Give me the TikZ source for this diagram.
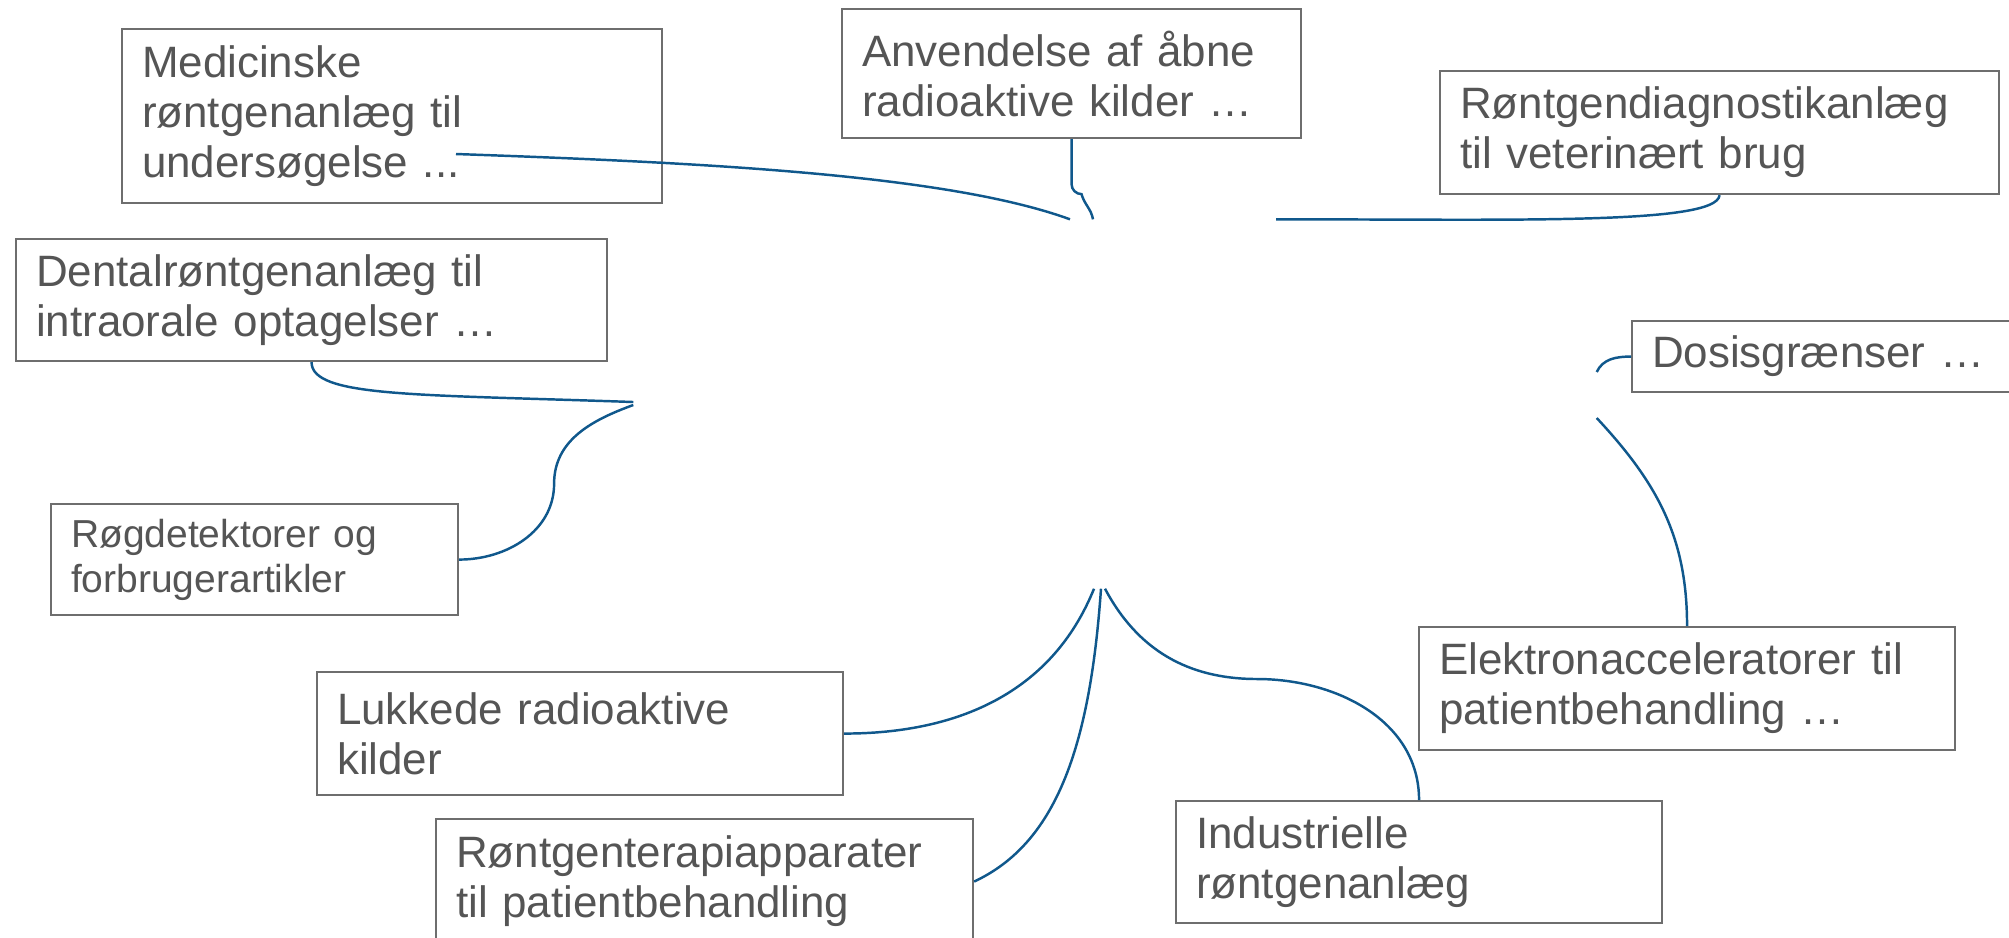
\documentclass[tikz,border=0pt]{standalone}
\usepackage{fontspec}
\setmainfont{Liberation Sans}
\usepackage{tikz}
\usetikzlibrary{calc}
\definecolor{boxgray}{RGB}{110,110,110}
\definecolor{textgray}{RGB}{85,85,85}
\definecolor{linkblue}{RGB}{16,88,140}

\begin{document}
\begin{tikzpicture}[
    topic/.style={draw=boxgray, line width=0.6pt, text=textgray, anchor=north west, align=left,
        inner xsep=0.2cm, inner ysep=0pt, font=\fontsize{12.5}{14.2}\selectfont},
    smalltopic/.style={topic, font=\fontsize{11.1}{12.8}\selectfont},
    hubzone/.style={inner sep=0pt, minimum width=9.62cm, minimum height=3.68cm},
    link/.style={draw=linkblue, line width=0.7pt}]
    \useasboundingbox (0,0) rectangle (20.09,-9.37);
    \node[hubzone] (hub) at (11.15,-4.04) {};
    \node[topic, text width=5.00cm, minimum height=1.74cm] (med) at (1.21,-0.28) {Medicinske\\røntgenanlæg til\\undersøgelse ...};
    \node[topic, text width=4.19cm, minimum height=1.29cm] (anv) at (8.41,-0.08) {Anvendelse af åbne\\radioaktive kilder …};
    \node[topic, text width=5.19cm, minimum height=1.23cm] (diag) at (14.39,-0.70) {Røntgendiagnostikanlæg\\til veterinært brug};
    \node[topic, text width=5.51cm, minimum height=1.22cm] (dental) at (0.15,-2.38) {Dentalrøntgenanlæg til\\intraorale optagelser …};
    \node[topic, text width=3.49cm, minimum height=0.71cm] (dosis) at (16.31,-3.20) {Dosisgrænser …};
    \node[smalltopic, text width=3.67cm, minimum height=1.11cm] (rog) at (0.50,-5.03) {Røgdetektorer og\\forbrugerartikler};
    \node[topic, text width=4.86cm, minimum height=1.23cm] (lukket) at (3.16,-6.71) {Lukkede radioaktive\\kilder};
    \node[topic, text width=4.97cm, minimum height=1.25cm] (terapi) at (4.35,-8.18) {Røntgenterapiapparater\\til patientbehandling};
    \node[topic, text width=4.46cm, minimum height=1.22cm] (industri) at (11.75,-8.00) {Industrielle\\røntgenanlæg};
    \node[topic, text width=4.96cm, minimum height=1.23cm] (elektron) at (14.18,-6.26) {Elektronacceleratorer til\\patientbehandling …};
    \coordinate (medtail) at (4.56,-1.54);
    \draw[link] (medtail) to[out=-2, in=160, out distance=2.5cm, in distance=1.3cm] ([xshift=-0.45cm]hub.north);
    \draw[link] (anv.south) -- ++(0,-0.45) to[out=-90, in=180] ++(0.1,-0.1) to[out=-75, in=100] ([xshift=-0.22cm]hub.north);
    \draw[link] (diag.south) to[out=-95, in=0, out distance=0.3cm, in distance=2.4cm] ([xshift=1.61cm]hub.north);
    \draw[link] (dental.south) to[out=-90, in=178, out distance=0.35cm, in distance=2.2cm] ([yshift=0.02cm]hub.west);
    \draw[link] (rog.east) to[out=0, in=-90] ++(0.95,0.76) to[out=90, in=200] ([yshift=-0.01cm]hub.west);
    \draw[link] (lukket.east) to[out=0, in=-112] ([xshift=-0.21cm]hub.south);
    \draw[link] (terapi.east) to[out=25, in=-94, out distance=0.9cm, in distance=1.6cm] ([xshift=-0.14cm]hub.south);
    \draw[link] (industri.north) to[out=90, in=0] ++(-1.62,1.21) to[out=180, in=-62] ([xshift=-0.10cm]hub.south);
    \draw[link] (elektron.north) to[out=90, in=-47] ([yshift=-0.14cm]hub.east);
    \draw[link] (dosis.west) to[out=180, in=65] ([yshift=0.32cm]hub.east);
\end{tikzpicture}
\end{document}
